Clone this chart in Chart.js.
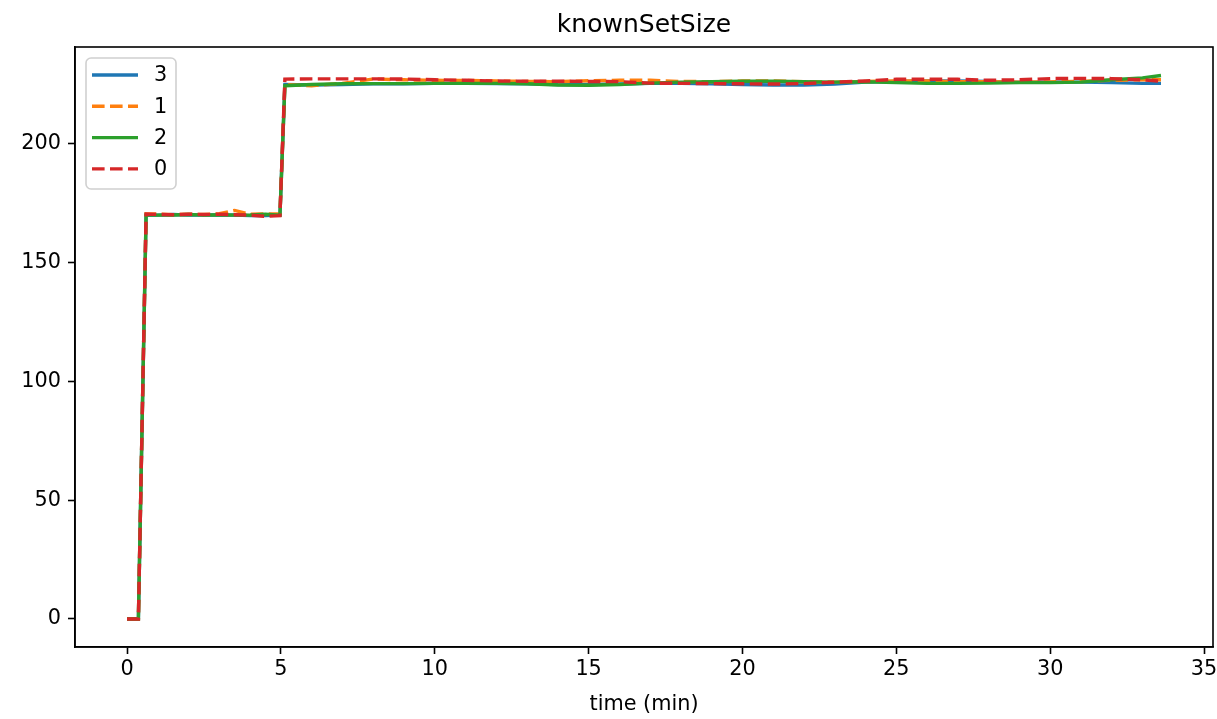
<!DOCTYPE html>
<html><head><meta charset="utf-8">
<script src="https://cdn.jsdelivr.net/npm/chart.js@4.4.0/dist/chart.umd.min.js"></script>
<style>html,body{margin:0;padding:0;background:#fff}#wrap{width:1217px;height:719px}</style>
</head><body><div id="wrap"><canvas id="c" width="1217" height="719"></canvas></div>
<script>
// sample times (min)
const times = [0, 0.37, 0.62, 1, 1.5, 2, 2.5, 3, 3.5, 4, 4.5, 4.97, 5.13,
  6, 7, 8, 9, 10, 11, 12, 13, 14, 15, 16, 17, 18, 19, 20, 21, 22, 23, 24, 25, 26, 27, 28, 29, 30, 31, 32, 33, 33.6];

const series3 = [0, 0, 170, 170, 170.3, 170, 170.2, 170, 170.1, 169.8, 169.8, 170, 225,
  224.8, 225, 225.3, 225.3, 225.5, 225.5, 225.4, 225.3, 225, 225, 225.2, 225.5, 225.5, 225.3, 225, 224.8, 224.8, 225.2, 226, 226.3, 226.5, 226.5, 226.3, 226, 226, 226, 225.8, 225.5, 225.5];
const series1 = [0, 0, 170.5, 170.5, 170.2, 170.4, 170.3, 170.6, 172, 170.4, 170.5, 170.5, 225,
  224.5, 225.5, 227.3, 227, 226.8, 226.7, 226.5, 226.3, 226.2, 226.6, 226.8, 226.8, 226.3, 226.2, 226.5, 226.5, 226.2, 226, 226.3, 226.5, 226.5, 226.2, 226.2, 226, 226.1, 226.3, 226.8, 227, 227];
const series2 = [0, 0, 170, 170, 170.1, 170.3, 170, 170.2, 170, 170.1, 170.4, 170, 224.5,
  225, 225.3, 225.4, 225.4, 225.5, 225.5, 225.5, 225.3, 224.8, 224.7, 225, 225.6, 226, 226.2, 226.4, 226.4, 226.2, 226, 226.2, 225.8, 225.5, 225.5, 225.6, 225.8, 225.8, 226, 227, 227.8, 228.8];
const series0 = [0, 0, 170.5, 170.3, 170.2, 170.4, 170.3, 170.4, 170.2, 170, 169.5, 169.8, 227.3,
  227.4, 227.4, 227.4, 227.3, 227, 226.8, 226.5, 226.4, 226.4, 226.3, 226.2, 225.6, 225.5, 225.4, 225.3, 225.2, 225.4, 226, 226.5, 227.2, 227.2, 227.2, 226.8, 227, 227.5, 227.6, 227.5, 227, 226.4];

const seriesLabels = ['3', '1', '2', '0'];
const seriesValues = [series3, series1, series2, series0];
const seriesColors = ['#1f77b4', '#ff7f0e', '#2ca02c', '#d62728'];
const seriesDashed = [false, true, false, true];
const xTicks = [0, 5, 10, 15, 20, 25, 30, 35];
const yTicks = [0, 50, 100, 150, 200];
const chartTitle = 'knownSetSize';
const xTitle = 'time (min)';

const LW = 3.4;
const DASH = [12.6, 5.4];
const FONT = 'DejaVu Sans';
const FS = 20.8;

const datasets = seriesLabels.map((lab, i) => ({
  label: lab,
  data: times.map((t, j) => ({x: t, y: seriesValues[i][j]})),
  borderColor: seriesColors[i],
  backgroundColor: seriesColors[i],
  borderWidth: LW,
  borderDash: seriesDashed[i] ? DASH : [],
  borderCapStyle: 'butt',
  pointRadius: 0,
  tension: 0,
  fill: false,
  order: seriesLabels.length - i
}));

const framePlugin = {
  id: 'frame',
  afterDatasetsDraw(chart) {
    const {ctx, chartArea: a} = chart;
    ctx.save();
    ctx.strokeStyle = '#000';
    ctx.lineWidth = 1.6;
    ctx.strokeRect(a.left, a.top, a.right - a.left, a.bottom - a.top);
    ctx.restore();
  }
};

const legendPlugin = {
  id: 'mplLegend',
  afterDraw(chart) {
    const ctx = chart.ctx;
    const a = chart.chartArea;
    const bx = a.left + 11, by = a.top + 11, bw = 90, bh = 131, r = 5;
    ctx.save();
    ctx.beginPath();
    ctx.moveTo(bx + r, by);
    ctx.arcTo(bx + bw, by, bx + bw, by + bh, r);
    ctx.arcTo(bx + bw, by + bh, bx, by + bh, r);
    ctx.arcTo(bx, by + bh, bx, by, r);
    ctx.arcTo(bx, by, bx + bw, by, r);
    ctx.closePath();
    ctx.fillStyle = 'rgba(255,255,255,0.8)';
    ctx.fill();
    ctx.strokeStyle = '#d0d0d0';
    ctx.lineWidth = 1.6;
    ctx.stroke();
    ctx.font = FS + 'px "' + FONT + '"';
    ctx.textBaseline = 'middle';
    ctx.textAlign = 'left';
    chart.data.datasets.forEach((ds, i) => {
      const y = by + 17 + i * 31.3;
      ctx.beginPath();
      ctx.setLineDash(ds.borderDash || []);
      ctx.lineCap = 'butt';
      ctx.strokeStyle = ds.borderColor;
      ctx.lineWidth = LW;
      ctx.moveTo(bx + 6, y);
      ctx.lineTo(bx + 52, y);
      ctx.stroke();
      ctx.setLineDash([]);
      ctx.fillStyle = '#000';
      ctx.fillText(ds.label, bx + 68, y + 1);
    });
    ctx.restore();
  }
};

new Chart(document.getElementById('c'), {
  type: 'line',
  data: {datasets},
  options: {
    responsive: false,
    animation: false,
    events: [],
    layout: {padding: {left: 0, right: 4, top: 0, bottom: 0}},
    plugins: {
      legend: {display: false},
      tooltip: {enabled: false},
      title: {display: false}
    },
    scales: {
      x: {
        type: 'linear',
        position: 'bottom',
        min: -1.69,
        max: 35.29,
        afterFit(s) { s.height = 72; s.paddingLeft = 0; s.paddingRight = 0; },
        afterBuildTicks(s) { s.ticks = xTicks.map(v => ({value: v})); },
        grid: {drawOnChartArea: false, tickLength: 7, tickColor: '#000', tickWidth: 1.6},
        border: {color: '#000', width: 1.6},
        ticks: {color: '#000', font: {family: FONT, size: FS}, padding: 3, maxRotation: 0},
        title: {display: true, text: xTitle, color: '#000', font: {family: FONT, size: FS}, padding: {top: 2, bottom: 1.5}}
      },
      top: {
        type: 'linear',
        position: 'top',
        min: -1.69,
        max: 35.29,
        afterFit(s) { s.height = 47; s.paddingLeft = 0; s.paddingRight = 0; },
        grid: {display: false},
        border: {display: false},
        ticks: {display: false},
        title: {display: true, text: chartTitle, color: '#000', font: {family: FONT, size: 25}, padding: {top: 10, bottom: 0}}
      },
      y: {
        type: 'linear',
        min: -11.8,
        max: 240.8,
        afterFit(s) { s.width = 75; s.paddingTop = 0; s.paddingBottom = 0; },
        afterBuildTicks(s) { s.ticks = yTicks.map(v => ({value: v})); },
        grid: {drawOnChartArea: false, tickLength: 7, tickColor: '#000', tickWidth: 1.6},
        border: {color: '#000', width: 1.6},
        ticks: {color: '#000', font: {family: FONT, size: FS}, padding: 7}
      }
    }
  },
  plugins: [framePlugin, legendPlugin]
});
</script>
</body></html>
